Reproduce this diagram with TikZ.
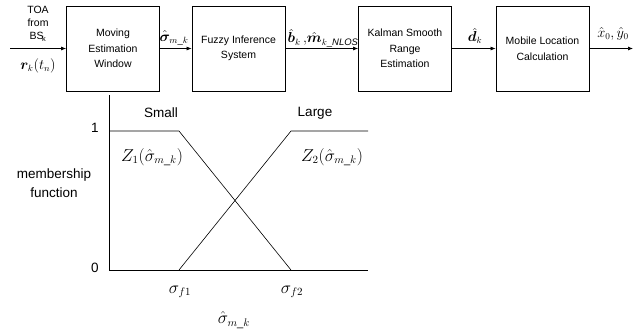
\documentclass[tikz,border=0pt]{standalone}
\usepackage{amsmath,bm}
\usepackage{fontspec}
\setmainfont{Liberation Sans}
\usetikzlibrary{arrows.meta}
\tikzset{
  blk/.style={draw, line width=0.8pt, minimum width=93pt, minimum height=85pt, align=center, inner sep=0pt,
     font=\fontsize{10.5}{15.5}\selectfont},
  lbl/.style={inner sep=0pt, font=\fontsize{10.5}{14}\selectfont, align=center},
  mlbl/.style={inner sep=0pt, font=\fontsize{13.5}{15}\selectfont},
  glbl/.style={inner sep=0pt, font=\fontsize{13.5}{19}\selectfont, align=center},
  gmlbl/.style={inner sep=0pt, font=\fontsize{16}{18}\selectfont},
  con/.style={line width=0.7pt, -{Latex[length=5pt,width=4pt]}},
  ln/.style={line width=0.6pt}
}
\begin{document}
\begin{tikzpicture}[x=1pt,y=-1pt]
\useasboundingbox (0,0) rectangle (643,335);
% blocks
\node[blk] (mew) at (113,48.5) {Moving\\Estimation\\Window};
\node[blk] (fis) at (238.5,48.5) {Fuzzy Inference\\System};
\node[blk] (ksr) at (405,48.5) {Kalman Smooth\\Range\\Estimation};
\node[blk] (mlc) at (542.5,48.5) {Mobile Location\\Calculation};
\coordinate (in) at (10,48.5);
\coordinate (out) at (633,48.5);
\draw[con] (in) -- (mew);
\draw[con] (mew) -- (fis);
\draw[con] (fis) -- (ksr);
\draw[con] (ksr) -- (mlc);
\draw[con] (mlc) -- (out);
% labels
\node[lbl, font=\fontsize{10.5}{13}\selectfont] (toa) at (38,24) {TOA\\from\\BS$_{\!\text{k}}$};
\node[mlbl] (rk) at (38,66) {$\bm{r}_k(t_n)$};
\node[mlbl] (sig) at (174,38) {$\hat{\bm{\sigma}}_{m\_k}$};
\node[mlbl] (bm) at (323,38) {$\hat{\bm{b}}_k\,,\!\hat{\bm{m}}_{k\_\mathit{NLOS}}$};
\node[mlbl] (dk) at (475,36) {$\hat{\bm{d}}_k$};
\node[mlbl] (xy) at (613,34) {$\hat{x}_0,\hat{y}_0$};
% membership graph
\coordinate (o) at (109,270);
\coordinate (ytop) at (109,95);
\coordinate (xend) at (368,270);
\draw[ln] (ytop) -- (o) -- (xend);
\coordinate (s1) at (179,131);
\coordinate (s2) at (291,270);
\coordinate (l1) at (179,270);
\coordinate (l2) at (291,131);
\draw[ln] (109,131) -- (s1) -- (s2);
\draw[ln] (l1) -- (l2) -- (368,131);
\node[glbl] (one) at (95,128) {1};
\node[glbl] (zero) at (95,268) {0};
\node[glbl] (small) at (161,113) {Small};
\node[glbl] (large) at (315,113) {Large};
\node[gmlbl] (z1) at (152,157) {$Z_1(\hat{\sigma}_{m\_k})$};
\node[gmlbl] (z2) at (332,157) {$Z_2(\hat{\sigma}_{m\_k})$};
\node[glbl] (mf) at (54,183) {membership\\function};
\node[gmlbl] (sf1) at (180,292) {$\sigma_{f1}$};
\node[gmlbl] (sf2) at (292,292) {$\sigma_{f2}$};
\node[gmlbl] (sx) at (234,320) {$\hat{\sigma}_{m\_k}$};
\end{tikzpicture}
\end{document}
